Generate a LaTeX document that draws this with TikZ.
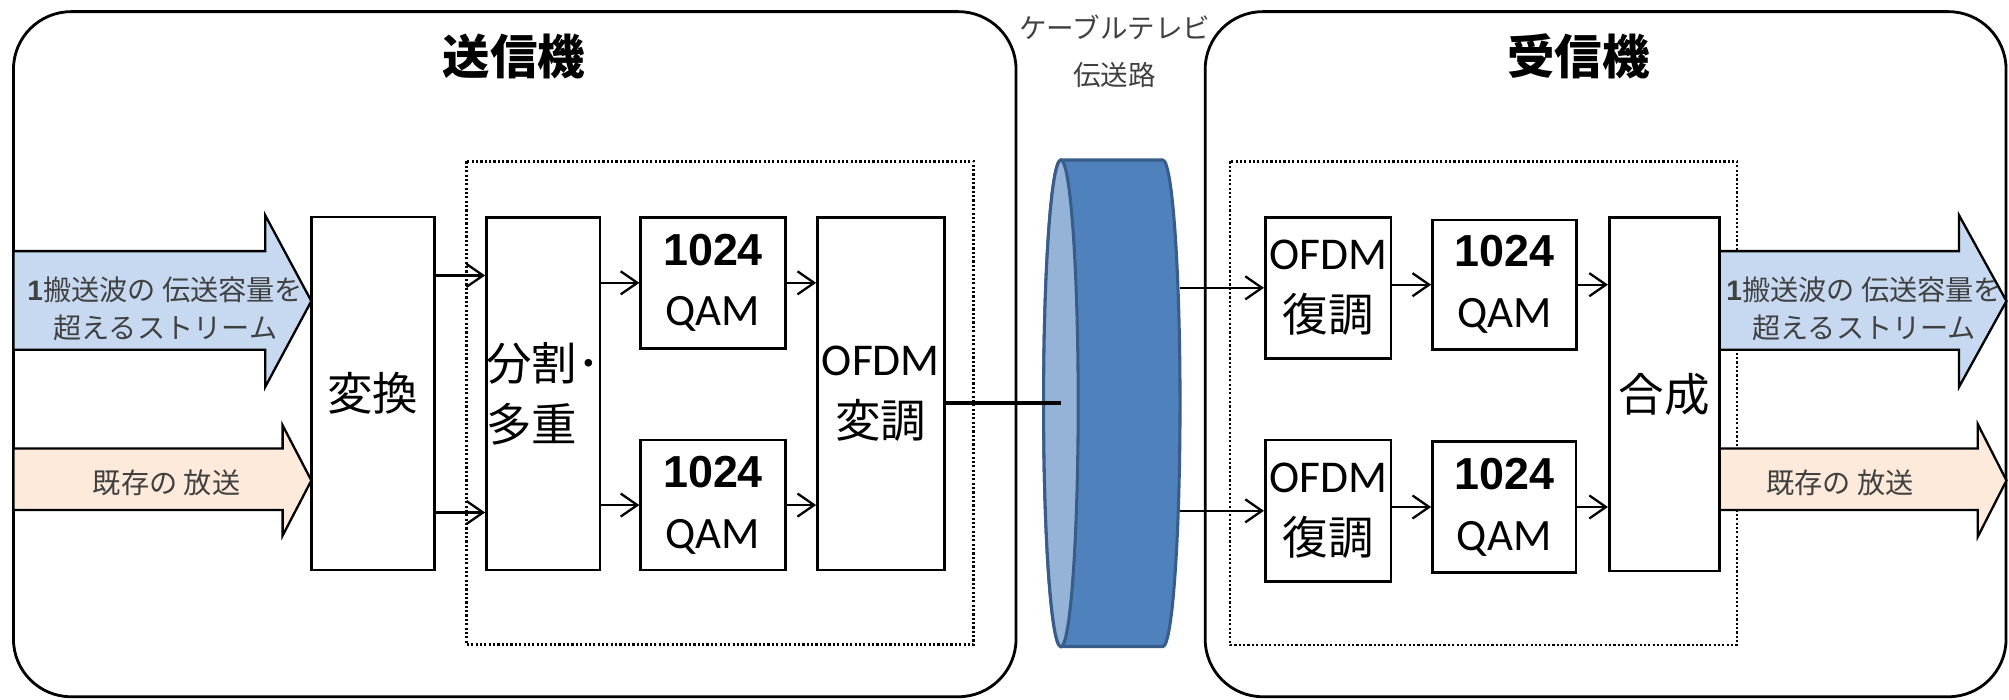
\documentclass[tikz,border=0pt]{standalone}
\usepackage{fontspec}
\setmainfont{Noto Sans CJK JP}
\newfontfamily\lat{Carlito}
\newfontfamily\num{Liberation Sans}
\usetikzlibrary{arrows.meta,shapes.geometric}
\definecolor{arrblue}{RGB}{198,217,241}
\definecolor{arrorange}{RGB}{253,234,218}
\definecolor{cylbody}{RGB}{79,129,189}
\definecolor{cylfacec}{RGB}{149,179,215}
\definecolor{cylline}{RGB}{56,93,138}
\definecolor{txtgray}{RGB}{64,64,64}
\begin{document}
\begin{tikzpicture}[x=1pt,y=-1pt,
  blk/.style={draw=black, line width=2pt, fill=white, inner sep=0pt, align=center, font=\fontsize{35.5}{48}\selectfont},
  qamblk/.style={blk, font=\fontsize{35}{47.5}\selectfont},
  outerbox/.style={draw=black, line width=2.2pt, rounded corners=45pt},
  dotbox/.style={draw=black, line width=2pt, dash pattern=on 1.7pt off 1.7pt},
  arr/.style={line width=1.8pt, -{Straight Barb[length=13pt,width=18pt]}},
  bigarrow/.style={draw=black, line width=1.8pt},
  arrtext/.style={text=txtgray, align=center, font=\fontsize{22}{30}\selectfont, inner sep=0pt},
  titletext/.style={font=\fontsize{37}{40}\selectfont\bfseries, inner sep=0pt},
]
\useasboundingbox (0,0) rectangle (1568,545.6);
\fill[white] (0,0) rectangle (1568,545.6);

% outer boxes
\draw[outerbox] (10.5,9.1) rectangle (793,543.8);
\draw[outerbox] (940.6,9.1) rectangle (1565.7,543.8);

% titles and cable label
\node[titletext] (tx) at (401,44) {送信機};
\node[titletext] (rx) at (1232,44) {受信機};
\node[text=txtgray, align=center, font=\fontsize{21.5}{36.5}\selectfont, inner sep=0pt] (cable) at (870,40) {ケーブルテレビ\\伝送路};

% dotted groups
\draw[dotbox] (364,126) rectangle (760,503);
\draw[dotbox] (960,126) rectangle (1355.7,503.4);

% big block arrows, left
\draw[bigarrow, fill=arrblue] (10.5,196) -- (207,196) -- (207,168) -- (243,235) -- (207,302) -- (207,273) -- (10.5,273) -- cycle;
\draw[bigarrow, fill=arrorange] (10.5,350) -- (220.6,350) -- (220.6,332) -- (243,375) -- (220.6,418) -- (220.6,398) -- (10.5,398) -- cycle;
% big block arrows, right
\draw[bigarrow, fill=arrblue] (1342,196) -- (1529,196) -- (1529,168) -- (1566,235) -- (1529,302) -- (1529,273) -- (1342,273) -- cycle;
\draw[bigarrow, fill=arrorange] (1342,350) -- (1543.6,350) -- (1543.6,331) -- (1566,375) -- (1543.6,419) -- (1543.6,398) -- (1342,398) -- cycle;

\node[arrtext] (inA) at (129,241) {{\num\bfseries 1}搬送波の 伝送容量を\\超えるストリーム};
\node[arrtext] (inB) at (130,377) {既存の 放送};
\node[arrtext] (outA) at (1455,241) {{\num\bfseries 1}搬送波の 伝送容量を\\超えるストリーム};
\node[arrtext] (outB) at (1436,377) {既存の 放送};

% transmitter blocks
\node[blk, minimum width=96pt, minimum height=275.5pt] (henkan) at (291,307.25) {変換};
\node[blk, minimum width=88pt, minimum height=275.4pt, align=left] (bunkatsu) at (424,307.3) {分割･\\多重};
\node[qamblk, minimum width=113pt, minimum height=102.3pt] (qamA) at (556.5,220.75) {{\num\bfseries 1024}\\{\lat QAM}};
\node[qamblk, minimum width=113pt, minimum height=101.6pt] (qamB) at (556.5,394.2) {{\num\bfseries 1024}\\{\lat QAM}};
\node[blk, minimum width=99pt, minimum height=275.4pt] (mod) at (687.5,307.3) {{\lat OFDM}\\変調};

% receiver blocks
\node[blk, minimum width=98.2pt, minimum height=110.1pt] (demA) at (1036.6,224.65) {{\lat OFDM}\\復調};
\node[blk, minimum width=98.2pt, minimum height=110.6pt] (demB) at (1036.6,398.7) {{\lat OFDM}\\復調};
\node[qamblk, minimum width=112.6pt, minimum height=101pt] (rqA) at (1174.3,222.2) {{\num\bfseries 1024}\\{\lat QAM}};
\node[qamblk, minimum width=112pt, minimum height=102pt] (rqB) at (1174,395.7) {{\num\bfseries 1024}\\{\lat QAM}};
\node[blk, minimum width=86pt, minimum height=276pt] (gosei) at (1299,307.65) {合成};

% cable cylinder
\draw[cylline, line width=2.4pt, fill=cylbody]
  (828,124.9) -- (907.5,124.9)
  .. controls (914.96,124.9) and (921,209.9) .. (921,314.8)
  .. controls (921,419.7) and (914.96,504.7) .. (907.5,504.7)
  -- (828,504.7)
  .. controls (820.54,504.7) and (814.5,419.7) .. (814.5,314.8)
  .. controls (814.5,209.9) and (820.54,124.9) .. (828,124.9) -- cycle;
\node[ellipse, draw=cylline, line width=2.4pt, fill=cylfacec, minimum width=27pt, minimum height=379.8pt, inner sep=0pt] (cylface) at (828,314.8) {};
\coordinate (cylright) at (921,314.8);

% connectors
\draw[arr] (henkan.east |- 0,215) -- (bunkatsu.west |- 0,215);
\draw[arr] (henkan.east |- 0,400) -- (bunkatsu.west |- 0,400);
\draw[arr] (bunkatsu.east |- qamA.west) -- (qamA.west);
\draw[arr] (bunkatsu.east |- qamB.west) -- (qamB.west);
\draw[arr] (qamA.east) -- (mod.west |- qamA.east);
\draw[arr] (qamB.east) -- (mod.west |- qamB.east);
\draw[line width=3pt] (mod.east |- cylface.center) -- (cylface.center);
\draw[arr] (cylright |- demA.west) -- (demA.west);
\draw[arr] (cylright |- demB.west) -- (demB.west);
\draw[arr] (demA.east |- rqA.west) -- (rqA.west);
\draw[arr] (demB.east |- rqB.west) -- (rqB.west);
\draw[arr] (rqA.east) -- (gosei.west |- rqA.east);
\draw[arr] (rqB.east) -- (gosei.west |- rqB.east);
\end{tikzpicture}
\end{document}
